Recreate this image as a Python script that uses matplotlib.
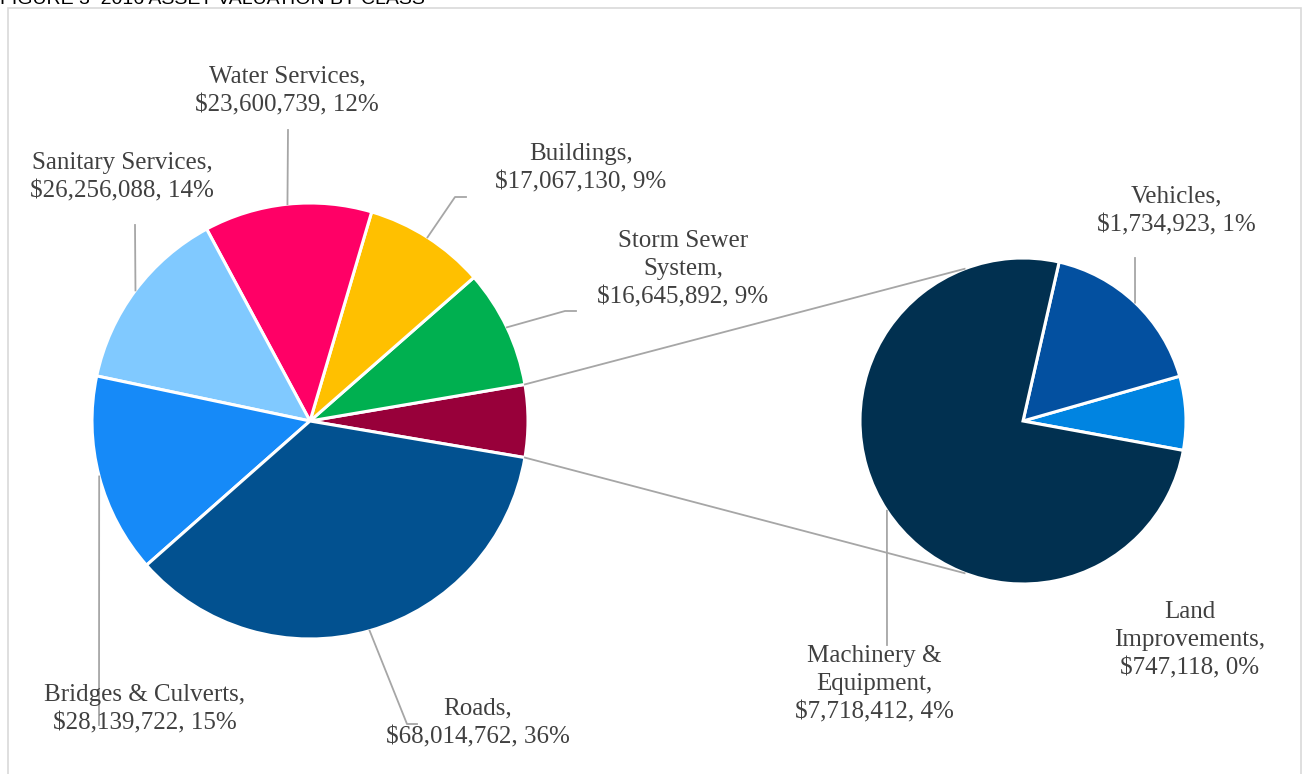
import numpy as np
import matplotlib.pyplot as plt

# asset classes, main pie (counter-clockwise from 3 o'clock)
main_names = ['Storm Sewer\nSystem,', 'Buildings,', 'Water Services,',
              'Sanitary Services,', 'Bridges & Culverts,', 'Roads,']
main_values = [16645892, 17067130, 23600739, 26256088, 28139722, 68014762]
main_colors = ['#00B050', '#FFC000', '#FF0066', '#80C9FF', '#168AF8', '#025190']

# classes split out into the second pie
sub_names = ['Land\nImprovements,', 'Vehicles,', 'Machinery &\nEquipment,']
sub_values = [747118, 1734923, 7718412]
sub_colors = ['#0084E1', '#0350A0', '#013050']
other_color = '#98003A'

W, H = 1305, 774
total = sum(main_values) + sum(sub_values)
other = sum(sub_values)

fig = plt.figure(figsize=(W / 100, H / 100), dpi=100)
ax = fig.add_axes([0, 0, 1, 1])

def Y(y):
    return H - y

txt = dict(fontsize=18, color='#404040', family='Liberation Serif',
           ha='center', va='center', linespacing=1.36)
lead = dict(color='#A6A6A6', lw=1.3, zorder=1)

c1, r1 = (310, Y(421)), 218
c2, r2 = (1023, Y(421)), 163

half = other / total * 360 / 2
w1, _ = ax.pie([other] + main_values, colors=[other_color] + main_colors,
               startangle=-half, counterclock=True, radius=r1, center=c1,
               wedgeprops=dict(edgecolor='white', linewidth=2.2))
w2, _ = ax.pie(sub_values, colors=sub_colors, startangle=-10.4,
               counterclock=True, radius=r2, center=c2,
               wedgeprops=dict(edgecolor='white', linewidth=2.2))

def edge(c, r, ang):
    a = np.deg2rad(ang)
    return c[0] + r * np.cos(a), c[1] + r * np.sin(a)

# connector lines between the two pies
for s in (1, -1):
    x0, y0 = edge(c1, r1, s * half)
    x1, y1 = edge(c2, r2, s * 111)
    ax.plot([x0, x1], [y0, y1], **lead)

# label positions and elbow points of the leader lines
main_pos = [(683, 269), (581, 168), (287, 91), (122, 177), (145, 709), (478, 723)]
main_elbow = [[(565, 311), (576, 311)], [(455, 197), (466, 197)], [(288, 130)],
              [(135, 225)], [(99, 725)], [(407, 724), (417, 724)]]
for w, name, v, pos, elb in zip(w1[1:], main_names, main_values, main_pos, main_elbow):
    mid = (w.theta1 + w.theta2) / 2
    x0, y0 = edge(c1, r1, mid)
    xs = [x0] + [p[0] for p in elb]
    ys = [y0] + [Y(p[1]) for p in elb]
    ax.plot(xs, ys, **lead)
    ax.text(pos[0], Y(pos[1]), f'{name}\n${v:,.0f}, {round(100 * v / total)}%', **txt)

sub_pos = [(1190, 640), (1176, 211), (874, 684)]
sub_elbow = [None, [(1135, 258)], [(887, 645)]]
for w, name, v, pos, elb in zip(w2, sub_names, sub_values, sub_pos, sub_elbow):
    if elb:
        mid = (w.theta1 + w.theta2) / 2
        x0, y0 = edge(c2, r2, mid)
        ax.plot([x0] + [p[0] for p in elb], [y0] + [Y(p[1]) for p in elb], **lead)
    ax.text(pos[0], Y(pos[1]), f'{name}\n${v:,.0f}, {round(100 * v / total)}%', **txt)

# chart frame and caption above it
ax.add_patch(plt.Rectangle((8, -10), 1293, Y(8) + 10, fill=False,
                           edgecolor='#D9D9D9', lw=1.2))
ax.text(0, Y(4), 'FIGURE 3  2016 ASSET VALUATION BY CLASS', fontsize=14,
        family='Liberation Sans', color='#000000', ha='left', va='baseline')

ax.set_xlim(0, W)
ax.set_ylim(0, H)
ax.set_aspect('equal')
ax.axis('off')
fig.savefig('out.png', dpi=100)
